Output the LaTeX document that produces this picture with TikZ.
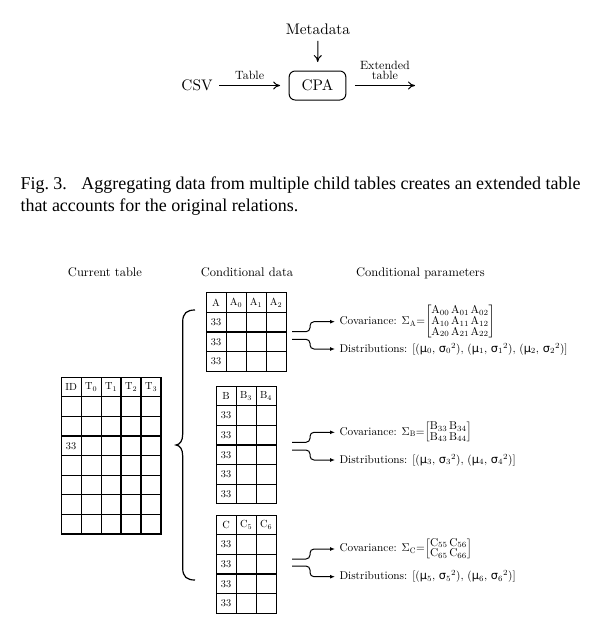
\RequirePackage{fix-cm}
\documentclass[tikz,border=0pt]{standalone}
\usepackage{amsmath}
\usepackage{fontspec}
\usetikzlibrary{positioning, matrix, arrows.meta}

\setmainfont{lmroman10}[Extension=.otf, UprightFont=*-regular, BoldFont=*-bold,
  ItalicFont=*-italic, BoldItalicFont=*-bolditalic]
\newfontfamily\capfont{Liberation Serif}
\newfontfamily\grkfont[Scale=1.0]{DejaVu Sans}
\setlength{\arraycolsep}{0.8pt}
\renewcommand{\arraystretch}{0.8}

\newcommand{\mug}[1]{{\grkfont μ}$_{#1}$}
\newcommand{\sgs}[1]{{\grkfont σ}$_{#1}{}^{2}$}

\begin{document}
\begin{tikzpicture}[
  x=1pt, y=-1pt,
  line width=1pt,
  big/.style   ={font=\fontsize{15.3}{18}\selectfont, inner sep=6pt},
  lbl/.style   ={font=\fontsize{12}{10.5}\selectfont, align=center, inner sep=5pt},
  box/.style   ={draw, rounded corners=6pt, minimum width=56.7pt,
                 minimum height=29pt, outer sep=9pt},
  capt/.style  ={font=\capfont\fontsize{18}{22}\selectfont, text width=560pt,
                 align=justify, inner sep=0pt},
  head/.style  ={font=\fontsize{12.5}{15}\selectfont, inner sep=0pt, anchor=base},
  tab/.style   ={matrix of nodes, nodes in empty cells, inner sep=0pt,
                 row sep=-1.2pt, column sep=-1.2pt, anchor=north west,
                 nodes={draw, line width=1.2pt, minimum width=20pt,
                        minimum height=19.6pt, inner sep=0pt, anchor=center,
                        font=\fontsize{10.3}{12}\selectfont}},
  param/.style ={font=\fontsize{11.3}{12}\selectfont, inner sep=4pt, anchor=west},
  flow/.style  ={-{Computer Modern Rightarrow[length=7pt, width=8pt]}},
  fork/.style  ={-{Latex[length=5pt, width=4pt]}, rounded corners=4pt}
]
\useasboundingbox (0,0) rectangle (599,633);

% ---------- Top: CPA pipeline ----------
\node[big]      (meta) at (318,29)     {Metadata};
\node[big, box] (cpa)  at (317.5,85.5) {CPA};
\node[big]      (csv)  at (197,85.5)   {CSV};
\coordinate     (out)  at (415,85.5);

\draw[flow] (meta) -- (cpa);
\draw[flow] (csv)  -- node[lbl, above] {Table} (cpa);
\draw[flow] (cpa)  -- node[lbl, above] {Extended\\table} (out);

% ---------- Caption ----------
\node[capt, anchor=north west] (cap) at (20,176)
  {Fig.~3.\hspace{0.8em}Aggregating data from multiple child tables creates an
   extended table that accounts for the original relations.};

% ---------- Column headings ----------
\node[head] (hcur)  at (105,276)   {Current table};
\node[head] (hcond) at (247,276)   {Conditional data};
\node[head] (hpar)  at (420.5,276) {Conditional parameters};

% ---------- Tables ----------
\matrix[tab] (cur) at (60,376) {
  ID & $\mathrm{T}_0$ & $\mathrm{T}_1$ & $\mathrm{T}_2$ & $\mathrm{T}_3$ \\
     & & & & \\
     & & & & \\
  33 & & & & \\
     & & & & \\
     & & & & \\
     & & & & \\
     & & & & \\
};
\matrix[tab] (tabA) at (205,291.7) {
  A  & $\mathrm{A}_0$ & $\mathrm{A}_1$ & $\mathrm{A}_2$ \\
  33 & & & \\
  33 & & & \\
  33 & & & \\
};
\matrix[tab] (tabB) at (215,385) {
  B  & $\mathrm{B}_3$ & $\mathrm{B}_4$ \\
  33 & & \\
  33 & & \\
  33 & & \\
  33 & & \\
  33 & & \\
};
\matrix[tab] (tabC) at (215,514) {
  C  & $\mathrm{C}_5$ & $\mathrm{C}_6$ \\
  33 & & \\
  33 & & \\
  33 & & \\
  33 & & \\
};

% ---------- Brace ----------
\draw[line width=1.2pt] (195,310) .. controls (187,310) and (182.7,313) .. (182.7,322)
  -- (182.7,434) .. controls (182.7,441) and (180,444.5) .. (176,445)
  .. controls (180,445.5) and (182.7,449) .. (182.7,456)
  -- (182.7,568) .. controls (182.7,577) and (187,580) .. (195,580);

% ---------- Parameters ----------
\node[param] (covA) at (335,321.7) {Covariance: $\Sigma_{\mathrm{A}}{=}\!\begin{bmatrix}
  \mathrm{A}_{00}&\mathrm{A}_{01}&\mathrm{A}_{02}\\
  \mathrm{A}_{10}&\mathrm{A}_{11}&\mathrm{A}_{12}\\
  \mathrm{A}_{20}&\mathrm{A}_{21}&\mathrm{A}_{22}\end{bmatrix}$};
\node[param] (distA) at (335,349)
  {Distributions: [(\mug0, \sgs0), (\mug1, \sgs1), (\mug2, \sgs2)]};

\node[param] (covB) at (335,432.3) {Covariance: $\Sigma_{\mathrm{B}}{=}\!\begin{bmatrix}
  \mathrm{B}_{33}&\mathrm{B}_{34}\\
  \mathrm{B}_{43}&\mathrm{B}_{44}\end{bmatrix}$};
\node[param] (distB) at (335,460)
  {Distributions: [(\mug3, \sgs3), (\mug4, \sgs4)]};

\node[param] (covC) at (335,549) {Covariance: $\Sigma_{\mathrm{C}}{=}\!\begin{bmatrix}
  \mathrm{C}_{55}&\mathrm{C}_{56}\\
  \mathrm{C}_{65}&\mathrm{C}_{66}\end{bmatrix}$};
\node[param] (distC) at (335,576.7)
  {Distributions: [(\mug5, \sgs5), (\mug6, \sgs6)]};

% ---------- Forks ----------
\coordinate (fA1) at (292,331.7);
\coordinate (fA2) at (292,339.3);
\coordinate (fB1) at (292,442.3);
\coordinate (fB2) at (292,450);
\coordinate (fC1) at (292,559);
\coordinate (fC2) at (292,566);

\draw[fork] (fA1) -- ++(18,0) |- (covA.west);
\draw[fork] (fA2) -- ++(18,0) |- (distA.west);
\draw[fork] (fB1) -- ++(18,0) |- (covB.west);
\draw[fork] (fB2) -- ++(18,0) |- (distB.west);
\draw[fork] (fC1) -- ++(18,0) |- (covC.west);
\draw[fork] (fC2) -- ++(18,0) |- (distC.west);

\end{tikzpicture}
\end{document}
